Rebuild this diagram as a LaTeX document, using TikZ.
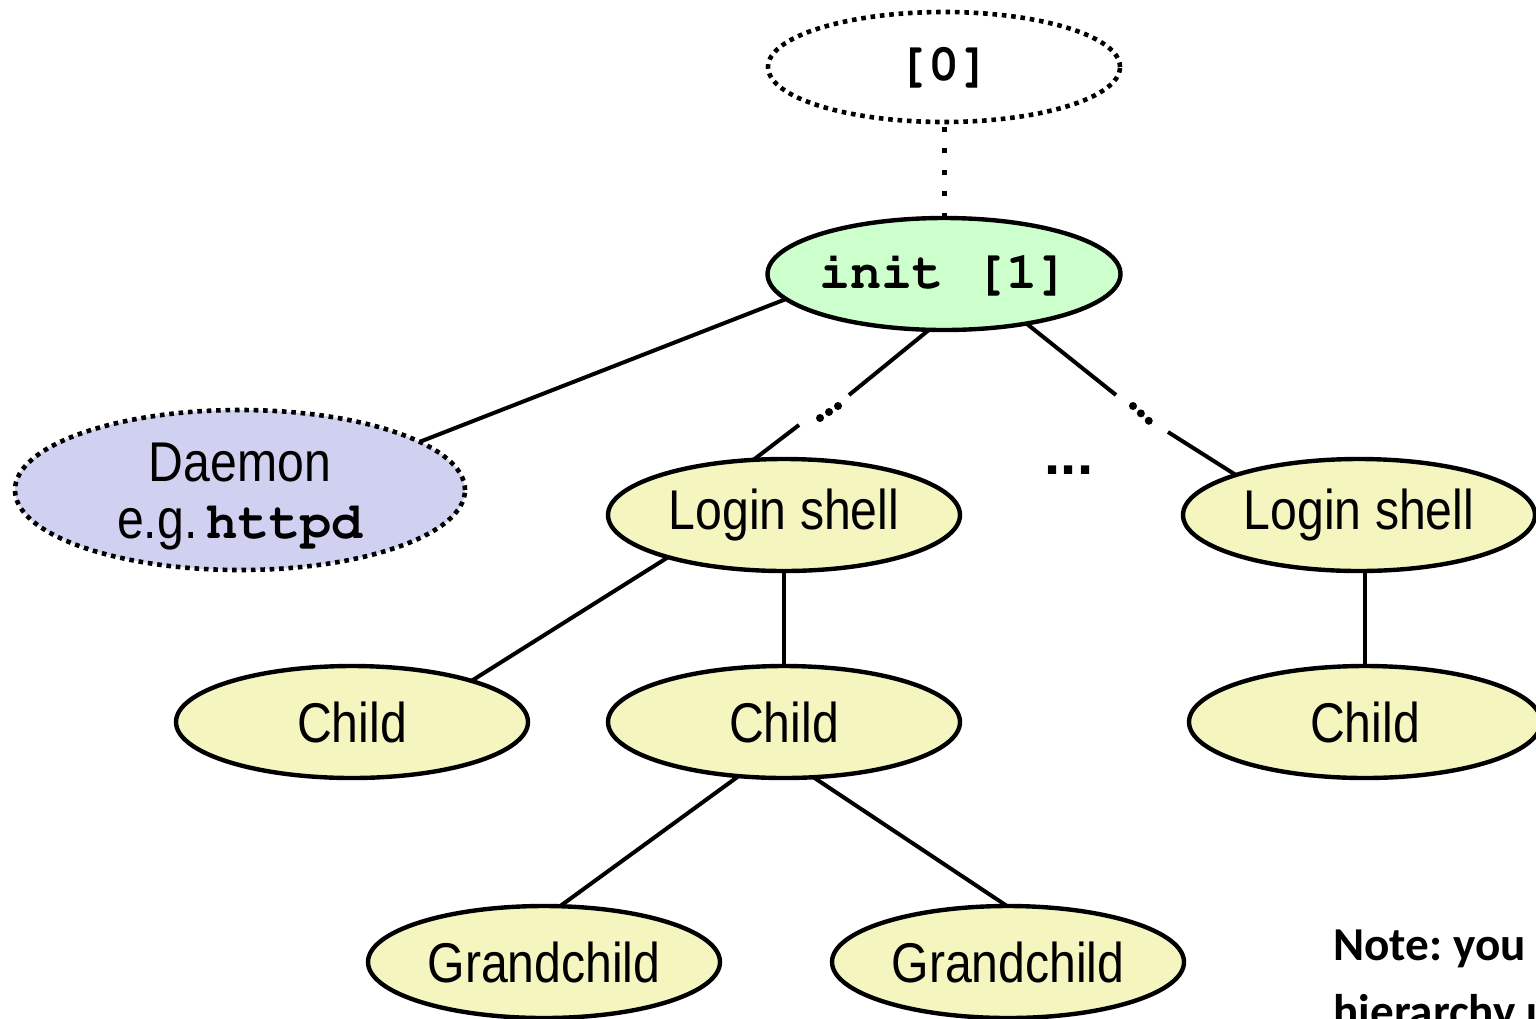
\documentclass[tikz,border=0pt]{standalone}
\usepackage[T1]{fontenc}
\usepackage{fontspec}
\setmainfont[FakeStretch=0.86]{Liberation Sans}
\newfontfamily\notefont{Carlito}
\newfontfamily\dotfont{Liberation Sans}
\newcommand{\courb}{\fontencoding{T1}\fontfamily{pcr}\fontseries{b}\selectfont}
\frenchspacing
\usetikzlibrary{shapes.geometric}
\definecolor{yellowfill}{RGB}{245,245,192}
\definecolor{greenfill}{RGB}{204,255,204}
\definecolor{bluefill}{RGB}{208,208,240}
\tikzset{
  proc/.style={ellipse, draw=black, line width=2.2pt, inner sep=0pt, outer sep=0pt,
    minimum width=176pt, minimum height=56pt, fill=yellowfill,
    font=\fontsize{28}{30}\selectfont},
  dotborder/.style={line width=2.3pt, dash pattern=on 2.3pt off 2.4pt},
  dotlink/.style={line width=2.5pt, dash pattern=on 2.5pt off 8.3pt},
  edge/.style={line width=2pt},
  gapdots/.style={line width=4pt, line cap=round, dash pattern=on 0pt off 5.4pt},
  mono/.style={font=\fontsize{26}{28}\courb},
  notetext/.style={anchor=base west, inner sep=0pt, font=\fontsize{23.6}{33}\notefont\bfseries}
}
\begin{document}
\begin{tikzpicture}[x=0.5pt,y=-0.5pt]
\path[use as bounding box] (0,0) rectangle (1536,1018);
\clip (0,0) rectangle (1536,1018);
% nodes
\node[ellipse, draw=black, dotborder, fill=white, inner sep=0pt, outer sep=0pt,
  minimum width=176pt, minimum height=55pt, mono] (p0) at (944,67) {[0]};
\node[proc, fill=greenfill, mono] (init) at (944,274) {init [1]};
\node[ellipse, draw=black, dotborder, fill=bluefill, inner sep=0pt, outer sep=0pt,
  minimum width=225pt, minimum height=80pt] (daemon) at (240,490) {};
\node[align=center, inner sep=0pt, font=\fontsize{28}{28.5}\selectfont] (dtext) at (240,497)
  {Daemon\\e.g.\,{\fontsize{26}{28.5}\courb httpd}};
\node[proc] (ls1) at (784,515) {Login shell};
\node[proc] (ls2) at (1359,515) {Login shell};
\node[proc] (c1) at (352,722) {Child};
\node[proc] (c2) at (784,722) {Child};
\node[proc] (c3) at (1365,722) {Child};
\node[proc] (g1) at (544,962) {Grandchild};
\node[proc] (g2) at (1008,962) {Grandchild};
\node[anchor=base, inner sep=0pt, font=\fontsize{29}{30}\dotfont\bfseries] (ell) at (1069,474) {...};
% note
\node[notetext] (note1) at (1333,960) {Note: you can view the};
\node[notetext] (note2) at (1333,1027) {hierarchy using the Linux};
% coordinates for gaps
\coordinate (a1) at (849,395);
\coordinate (a2) at (838,406);
\coordinate (a3) at (820,418);
\coordinate (a4) at (799,425);
\coordinate (b1) at (1116,395);
\coordinate (b2) at (1133,406);
\coordinate (b3) at (1149,421);
\coordinate (b4) at (1168,432);
% connectors
\draw[dotlink] (init.north) -- (p0.south);
\draw[edge] (init.189) -- (daemon.15);
\draw[edge] (init.255) -- (a1);
\draw[gapdots] (a2) -- (a3);
\draw[edge] (a4) -- (ls1.119);
\draw[edge] (init.329) -- (b1);
\draw[gapdots] (b2) -- (b3);
\draw[edge] (b4) -- (ls2.162);
\draw[edge] (ls1.200) -- (c1.19);
\draw[edge] (ls1.south) -- (c2.north);
\draw[edge] (c3.north |- ls2.south) -- (c3.north);
\draw[edge] (c2.230) -- (g1.74);
\draw[edge] (c2.298) -- (g2.91);
\end{tikzpicture}
\end{document}
